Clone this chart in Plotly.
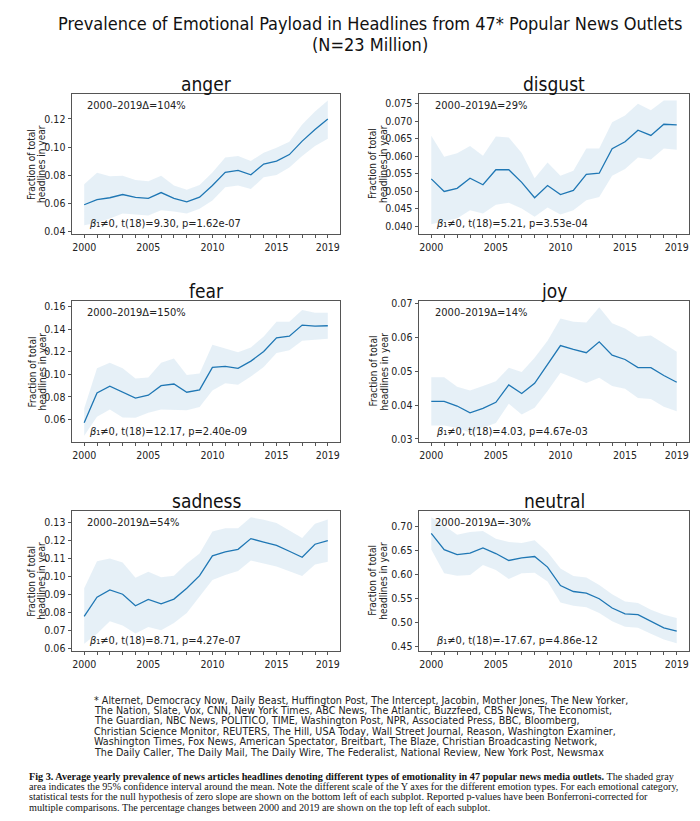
import plotly.graph_objects as go

# ---------------- data ----------------
years = list(range(2000, 2020))

emotions = ["anger", "disgust", "fear", "joy", "sadness", "neutral"]

anger_mean = [0.0588, 0.0624, 0.0638, 0.0661, 0.0640, 0.0633, 0.0675, 0.0633, 0.0609, 0.0642,
              0.0725, 0.0819, 0.0833, 0.0802, 0.0878, 0.0899, 0.0946, 0.1042, 0.1125, 0.1200]
anger_upper = [0.0734, 0.0816, 0.0791, 0.0795, 0.0765, 0.0755, 0.0795, 0.0725, 0.0696, 0.0729,
               0.0819, 0.0925, 0.0936, 0.0901, 0.0960, 0.0995, 0.1038, 0.1160, 0.1254, 0.1332]
anger_lower = [0.0442, 0.0460, 0.0490, 0.0525, 0.0518, 0.0512, 0.0548, 0.0540, 0.0525, 0.0560,
               0.0619, 0.0713, 0.0725, 0.0700, 0.0784, 0.0800, 0.0854, 0.0936, 0.1007, 0.1059]

disgust_mean = [0.0535, 0.0499, 0.0508, 0.0537, 0.0518, 0.0561, 0.0561, 0.0525, 0.0481, 0.0516,
                0.0490, 0.0502, 0.0548, 0.0551, 0.0621, 0.0641, 0.0674, 0.0659, 0.0691, 0.0689]
disgust_upper = [0.0658, 0.0598, 0.0608, 0.0629, 0.0601, 0.0656, 0.0653, 0.0609, 0.0537, 0.0582,
                 0.0544, 0.0558, 0.0622, 0.0622, 0.0697, 0.0716, 0.0750, 0.0731, 0.0759, 0.0759]
disgust_lower = [0.0405, 0.0414, 0.0422, 0.0445, 0.0436, 0.0461, 0.0467, 0.0450, 0.0427, 0.0453,
                 0.0433, 0.0445, 0.0474, 0.0483, 0.0544, 0.0563, 0.0596, 0.0590, 0.0622, 0.0618]

fear_mean = [0.0571, 0.0835, 0.0894, 0.0841, 0.0789, 0.0815, 0.0899, 0.0914, 0.0841, 0.0862,
             0.1062, 0.1071, 0.1053, 0.1117, 0.1202, 0.1324, 0.1338, 0.1437, 0.1428, 0.1431]
fear_upper = [0.0696, 0.1053, 0.1102, 0.1053, 0.0963, 0.0972, 0.1102, 0.1141, 0.0995, 0.1007,
              0.1263, 0.1228, 0.1195, 0.1239, 0.1335, 0.1466, 0.1466, 0.1570, 0.1547, 0.1547]
fear_lower = [0.0455, 0.0623, 0.0687, 0.0617, 0.0615, 0.0658, 0.0687, 0.0681, 0.0681, 0.0710,
              0.0856, 0.0920, 0.0908, 0.0981, 0.1065, 0.1190, 0.1214, 0.1298, 0.1306, 0.1315]

joy_mean = [0.0411, 0.0411, 0.0397, 0.0377, 0.0390, 0.0408, 0.0459, 0.0434, 0.0464, 0.0518,
            0.0575, 0.0564, 0.0554, 0.0586, 0.0547, 0.0534, 0.0510, 0.0510, 0.0487, 0.0467]
joy_upper = [0.0482, 0.0482, 0.0454, 0.0443, 0.0456, 0.0470, 0.0510, 0.0497, 0.0539, 0.0589,
             0.0655, 0.0645, 0.0643, 0.0688, 0.0641, 0.0625, 0.0601, 0.0605, 0.0581, 0.0557]
joy_lower = [0.0340, 0.0340, 0.0332, 0.0319, 0.0332, 0.0347, 0.0404, 0.0372, 0.0392, 0.0441,
             0.0495, 0.0480, 0.0465, 0.0480, 0.0456, 0.0448, 0.0421, 0.0418, 0.0395, 0.0382]

sadness_mean = [0.0779, 0.0885, 0.0925, 0.0901, 0.0837, 0.0872, 0.0848, 0.0874, 0.0934, 0.1004,
                0.1114, 0.1135, 0.1150, 0.1209, 0.1190, 0.1172, 0.1139, 0.1106, 0.1178, 0.1198]
sadness_upper = [0.0934, 0.1084, 0.1099, 0.1077, 0.0993, 0.1026, 0.0995, 0.1004, 0.1071, 0.1126,
                 0.1249, 0.1267, 0.1267, 0.1327, 0.1313, 0.1296, 0.1254, 0.1212, 0.1291, 0.1315]
sadness_lower = [0.0627, 0.0682, 0.0752, 0.0728, 0.0684, 0.0720, 0.0702, 0.0742, 0.0797, 0.0889,
                 0.0980, 0.1008, 0.1030, 0.1088, 0.1071, 0.1055, 0.1030, 0.1002, 0.1066, 0.1081]

neutral_mean = [0.6849, 0.6512, 0.6409, 0.6437, 0.6547, 0.6430, 0.6286, 0.6341, 0.6368, 0.6148,
                0.5764, 0.5640, 0.5606, 0.5489, 0.5297, 0.5173, 0.5159, 0.5022, 0.4885, 0.4816]
neutral_upper = [0.7185, 0.7014, 0.6821, 0.6876, 0.6897, 0.6739, 0.6670, 0.6650, 0.6705, 0.6464,
                 0.6121, 0.5962, 0.5929, 0.5777, 0.5585, 0.5434, 0.5399, 0.5262, 0.5159, 0.5091]
neutral_lower = [0.6512, 0.6018, 0.5970, 0.5984, 0.6190, 0.6087, 0.5901, 0.6018, 0.6032, 0.5846,
                 0.5413, 0.5345, 0.5310, 0.5194, 0.5022, 0.4905, 0.4885, 0.4761, 0.4643, 0.4562]

delta_pct = ["104", "29", "150", "14", "54", "-30"]
t_stats = ["9.30", "5.21", "12.17", "4.03", "8.71", "-17.67"]
p_values = ["1.62e-07", "3.53e-04", "2.40e-09", "4.67e-03", "4.27e-07", "4.86e-12"]

x_labeled_years = [2000, 2005, 2010, 2015, 2019]

title_lines = ["Prevalence of Emotional Payload in Headlines from 47* Popular News Outlets",
               "(N=23 Million)"]
ylabel_lines = ["Fraction of total", "headlines in year"]

footnote_lines = [
    "* Alternet, Democracy Now, Daily Beast, Huffington Post, The Intercept, Jacobin, Mother Jones, The New Yorker,",
    "The Nation, Slate, Vox, CNN, New York Times, ABC News, The Atlantic, Buzzfeed, CBS News, The Economist,",
    "The Guardian, NBC News, POLITICO, TIME, Washington Post, NPR, Associated Press, BBC, Bloomberg,",
    "Christian Science Monitor, REUTERS, The Hill, USA Today, Wall Street Journal, Reason, Washington Examiner,",
    "Washington Times, Fox News, American Spectator, Breitbart, The Blaze, Christian Broadcasting Network,",
    "The Daily Caller, The Daily Mail, The Daily Wire, The Federalist, National Review, New York Post, Newsmax",
]
caption_lines = [
    "<b>Fig 3. Average yearly prevalence of news articles headlines denoting different types of emotionality in 47 popular news media outlets.</b> The shaded gray",
    "area indicates the 95% confidence interval around the mean. Note the different scale of the Y axes for the different emotion types. For each emotional category,",
    "statistical tests for the null hypothesis of zero slope are shown on the bottom left of each subplot. Reported p-values have been Bonferroni-corrected for",
    "multiple comparisons. The percentage changes between 2000 and 2019 are shown on the top left of each subplot.",
]

series = {
    "anger": (anger_mean, anger_upper, anger_lower),
    "disgust": (disgust_mean, disgust_upper, disgust_lower),
    "fear": (fear_mean, fear_upper, fear_lower),
    "joy": (joy_mean, joy_upper, joy_lower),
    "sadness": (sadness_mean, sadness_upper, sadness_lower),
    "neutral": (neutral_mean, neutral_upper, neutral_lower),
}

# ---------------- layout config ----------------
OFF = 8                     # default page body margin
W, H = 700 - OFF, 821 - 2 * OFF
FONT = "DejaVu Sans Condensed, DejaVu Sans, sans-serif"
FONT_N = "DejaVu Sans, sans-serif"
SERIF = "Liberation Serif, Times New Roman, serif"
LINE = "#1f77b4"
FILL = "rgba(31,119,180,0.11)"
AXC = "#555555"

# positions below are in screen pixels of the 700x821 window
col_l = [72, 419]
col_r = [340, 689]
row_t = [91, 300, 512]
row_b = [232, 442, 653]
y_ranges = {
    "anger": ([0.0381, 0.1377], 0.02, ".2f"),
    "disgust": ([0.0378, 0.0777], 0.005, ".3f"),
    "fear": ([0.0402, 0.165], 0.02, ".2f"),
    "joy": ([0.0292, 0.0706], 0.01, ".2f"),
    "sadness": ([0.0589, 0.1362], 0.01, ".2f"),
    "neutral": ([0.4411, 0.7315], 0.05, ".2f"),
}
ylabel_x = [[32, 42], [373, 384]]


def fx(px):
    return (px - OFF) / W


def fy(py):
    return 1 - (py - OFF) / H


fig = go.Figure()
annotations = []
layout_axes = {}

for i, emo in enumerate(emotions):
    r, c = divmod(i, 2)
    k = i + 1
    xa = "x" if k == 1 else f"x{k}"
    ya = "y" if k == 1 else f"y{k}"
    mean, upper, lower = series[emo]

    fig.add_trace(go.Scatter(
        x=years + years[::-1], y=upper + lower[::-1], fill="toself",
        fillcolor=FILL, line=dict(width=0), mode="lines",
        xaxis=xa, yaxis=ya, hoverinfo="skip", showlegend=False))
    fig.add_trace(go.Scatter(
        x=years, y=mean, mode="lines", line=dict(color=LINE, width=1.3),
        xaxis=xa, yaxis=ya, showlegend=False))

    rng, dt, fmt = y_ranges[emo]
    axis_common = dict(showline=True, mirror=True, linecolor=AXC, linewidth=1,
                       ticks="outside", ticklen=3.5, tickwidth=0.8, tickcolor=AXC,
                       showgrid=False, zeroline=False,
                       tickfont=dict(family=FONT, size=10.5, color="#222"))
    layout_axes["xaxis" if k == 1 else f"xaxis{k}"] = dict(
        domain=[fx(col_l[c]), fx(col_r[c])], range=[1999.05, 2019.95],
        anchor=ya, tickmode="array", tickvals=years,
        ticktext=[str(y) if y in x_labeled_years else "" for y in years],
        **axis_common)
    layout_axes["yaxis" if k == 1 else f"yaxis{k}"] = dict(
        domain=[fy(row_b[r]), fy(row_t[r])], range=rng, anchor=xa,
        dtick=dt, tick0=0, tickformat=fmt, **axis_common)

    # subplot title
    annotations.append(dict(
        x=(fx(col_l[c]) + fx(col_r[c])) / 2, y=fy(row_t[r] - 10), xref="paper", yref="paper",
        text=emo, showarrow=False, xanchor="center", yanchor="middle",
        font=dict(family=FONT, size=19, color="#111")))
    # delta text
    annotations.append(dict(
        x=0.05, y=0.92, xref=f"{xa} domain", yref=f"{ya} domain",
        text=f"2000–2019Δ={delta_pct[i]}%", showarrow=False, xanchor="left", yanchor="middle",
        font=dict(family=FONT, size=11, color="#222")))
    # stats text
    annotations.append(dict(
        x=0.06, y=0.075, xref=f"{xa} domain", yref=f"{ya} domain",
        text=f"<i>β</i>₁≠0, t(18)={t_stats[i]}, p={p_values[i]}",
        showarrow=False, xanchor="left", yanchor="middle",
        font=dict(family=FONT, size=11, color="#222")))
    # y label
    for j, line in enumerate(ylabel_lines):
        annotations.append(dict(
            x=fx(ylabel_x[c][j]), y=fy((row_t[r] + row_b[r]) / 2), xref="paper", yref="paper",
            text=line, textangle=-90, showarrow=False, xanchor="center", yanchor="middle",
            font=dict(family=FONT, size=10, color="#222")))

# main title
for j, (line, py) in enumerate(zip(title_lines, [20, 41])):
    annotations.append(dict(
        x=fx(370), y=fy(py), xref="paper", yref="paper", text=line, showarrow=False,
        xanchor="center", yanchor="middle", font=dict(family=FONT, size=18, color="#111")))

# footnote
for j, line in enumerate(footnote_lines):
    annotations.append(dict(
        x=fx(92), y=fy(703 + j * 10.5), xref="paper", yref="paper", text=line, showarrow=False,
        xanchor="left", yanchor="middle", font=dict(family=FONT_N, size=9.6, color="#222")))

# caption
for j, line in enumerate(caption_lines):
    annotations.append(dict(
        x=fx(27), y=fy(780 + j * 10.4), xref="paper", yref="paper", text=line, showarrow=False,
        xanchor="left", yanchor="middle", font=dict(family=SERIF, size=10.2, color="#111")))

fig.update_layout(
    width=W, height=H, autosize=False,
    margin=dict(l=0, r=0, t=0, b=0),
    paper_bgcolor="white", plot_bgcolor="white",
    showlegend=False, annotations=annotations, **layout_axes)

fig.write_html("out.html")
